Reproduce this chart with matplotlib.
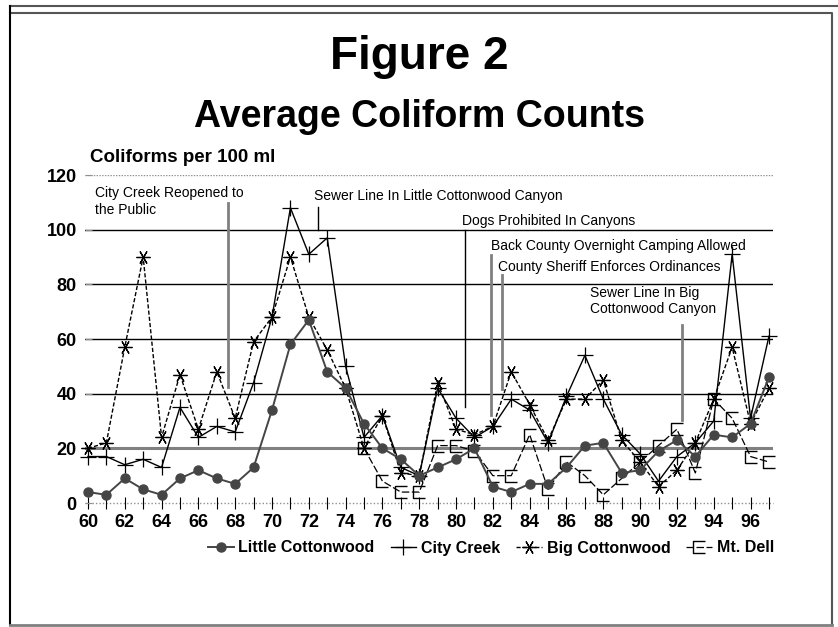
import matplotlib
matplotlib.use('Agg')
import matplotlib.pyplot as plt
from matplotlib.lines import Line2D
from matplotlib.path import Path

plt.rcParams['font.family'] = ['Liberation Sans', 'DejaVu Sans']

# data (counts per 100 ml)
years = list(range(60, 98))
little = [4, 3, 9, 5, 3, 9, 12, 9, 7, 13, 34, 58, 67, 48, 42, 29, 20, 16, 10, 13,
          16, 20, 6, 4, 7, 7, 13, 21, 22, 11, 12, 19, 23, 17, 25, 24, 29, 46]
city = [17, 17, 14, 16, 13, 35, 24, 28, 26, 44, 68, 108, 91, 97, 50, 24, 32, 13, 10, 42,
        31, 24, 28, 38, 34, 22, 39, 54, 38, 25, 18, 8, 17, 22, 30, 91, 31, 61]
big = [20, 22, 57, 90, 24, 47, 27, 48, 31, 59, 68, 90, 68, 56, 42, 20, 32, 11, 10, 44,
       27, 25, 28, 48, 36, 23, 38, 38, 45, 23, 15, 6, 12, 22, 38, 57, 29, 42]
dell_years = list(range(75, 98))
dell = [20, 8, 4, 4, 21, 21, 19, 10, 10, 25, 5, 15, 10, 3, 9, 15, 21, 27, 11, 38, 31, 17, 15]

# events: (text, text x, text y, line x, line y0, line y1, grey?)
events = [
    ('City Creek Reopened to\nthe Public', 60.4, 116, 67.6, 42.4, 109.7, True),
    ('Sewer Line In Little Cottonwood Canyon', 72.3, 112.2, 72.5, 99.8, 108.2, False),
    ('Dogs Prohibited In Canyons', 80.3, 103.1, 80.5, 35.1, 100, False),
    ('Back County Overnight Camping Allowed', 81.9, 94.0, 81.9, 32.2, 90.7, True),
    ('County Sheriff Enforces Ordinances', 82.3, 86.3, 82.5, 41.7, 83.4, True),
    ('Sewer Line In Big\nCottonwood Canyon', 87.3, 79.5, 92.3, 30.3, 65.1, True),
]

W, H = 838, 627
fig = plt.figure(figsize=(W / 100, H / 100), dpi=100)
ax = fig.add_axes([85 / W, 1 - 503 / H, (773 - 85) / W, 328 / H])
ax.set_xlim(59.84, 97.22)
ax.set_ylim(0, 120)
for s in ax.spines.values():
    s.set_visible(False)

# horizontal grid
for v in [40, 60, 80, 100]:
    ax.axhline(v, color='black', lw=1.0, zorder=1)
ax.axhline(20, color='#808080', lw=2.2, zorder=1)
ax.axhline(120, color='#909090', lw=1.0, ls=(0, (1, 1)), zorder=1)
ax.axhline(0, color='#909090', lw=1.0, ls=(0, (1, 1.5)), zorder=1, clip_on=False)

# event lines and labels
for txt, tx, ty, lx, y0, y1, grey in events:
    ax.plot([lx, lx], [y0, y1], color='#808080' if grey else 'black',
            lw=2.0 if grey else 1.0, zorder=2)
    ax.text(tx, ty, txt, fontsize=10, ha='left', va='top' if '\n' in txt else 'center',
            linespacing=1.25, zorder=3)

bracket = Path([(0.5, 0.5), (-0.5, 0.5), (-0.5, -0.5), (0.5, -0.5)],
               [Path.MOVETO, Path.LINETO, Path.LINETO, Path.LINETO])

ax.plot(years, little, color='#454545', lw=1.4, marker='o', ms=6.5,
        mfc='#454545', mec='#454545', label='Little Cottonwood', zorder=5, clip_on=False)
ax.plot(years, city, color='black', lw=1.0, marker='+', ms=12, mew=0.9,
        label='City Creek', zorder=4, clip_on=False)
ax.plot(years, big, color='black', lw=1.0, ls=(0, (3, 1.5)), marker=(6, 2, 90), ms=10, mew=0.9,
        label='Big Cottonwood', zorder=4, clip_on=False)
ax.plot(dell_years, dell, color='black', lw=0.9, ls=(0, (6, 2)), marker=bracket, ms=8,
        mfc='none', mew=1.0, label='Mt. Dell', zorder=4, clip_on=False)

# ticks
ax.set_yticks([0, 20, 40, 60, 80, 100, 120])
ax.set_yticklabels(['0', '20', '40', '60', '80', '100', '120'], fontsize=13, fontweight='bold')
ax.tick_params(axis='y', length=5, width=0.8, color='#909090', direction='in', pad=6)
ax.set_xticks(list(range(60, 97, 2)))
ax.set_xticklabels([str(y) for y in range(60, 97, 2)], fontsize=13, fontweight='bold')
ax.set_xticks(years, minor=True)
ax.tick_params(axis='x', which='both', length=8, width=0.8, direction='inout', pad=4)

# titles
fig.text(0.5, 1 - 57 / H, 'Figure 2', ha='center', va='center', fontsize=33, fontweight='bold')
fig.text(0.5, 1 - 117 / H, 'Average Coliform Counts', ha='center', va='center',
         fontsize=27, fontweight='bold')
fig.text(90 / W, 1 - 157 / H, 'Coliforms per 100 ml', ha='left', va='center',
         fontsize=13.5, fontweight='bold')

fig.legend(loc='center', bbox_to_anchor=(491 / W, 1 - 548 / H), ncol=4, frameon=False,
           prop={'weight': 'bold', 'size': 11.5}, handlelength=1.6, handletextpad=0.3,
           columnspacing=1.0)

# page border
fig.add_artist(Line2D([10 / W, 1], [1 - 6 / H] * 2, color='#555555', lw=1.5, transform=fig.transFigure))
fig.add_artist(Line2D([10 / W, 832 / W, 832 / W], [1 - 13 / H, 1 - 13 / H, 1 - 625 / H],
                      color='#555555', lw=1.5, transform=fig.transFigure))
fig.add_artist(Line2D([10 / W, 10 / W], [1 - 6 / H, 1 - 625 / H],
                      color='black', lw=1.5, transform=fig.transFigure))
fig.add_artist(Line2D([10 / W, 832 / W], [1 - 625 / H] * 2,
                      color='#808080', lw=2.0, transform=fig.transFigure))

fig.savefig('out.png', dpi=100)
